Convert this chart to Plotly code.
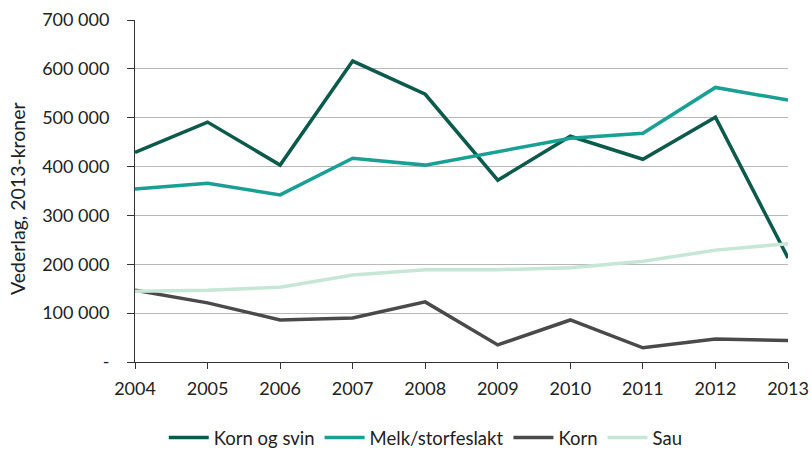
import plotly.graph_objects as go

years = [2004, 2005, 2006, 2007, 2008, 2009, 2010, 2011, 2012, 2013]
korn_og_svin = [429000, 491000, 403000, 616000, 548000, 372000, 462000, 415000, 501000, 213000]
melk_storfeslakt = [354000, 366000, 342000, 417000, 403000, 431000, 458000, 468000, 562000, 536000]
korn = [147000, 121000, 86000, 90000, 123000, 35000, 86000, 29000, 47000, 44000]
sau = [145000, 147000, 153000, 178000, 189000, 189000, 193000, 206000, 229000, 242000]

y_tickvals = [0, 100000, 200000, 300000, 400000, 500000, 600000, 700000]
y_ticktext = ["-", "100 000", "200 000", "300 000", "400 000", "500 000", "600 000", "700 000"]

series = [
    ("Korn og svin", korn_og_svin, "#0b5a4c"),
    ("Melk/storfeslakt", melk_storfeslakt, "#17a093"),
    ("Korn", korn, "#4a4a4a"),
    ("Sau", sau, "#c6e6d6"),
]

fig = go.Figure()
for name, vals, color in series:
    fig.add_trace(go.Scatter(x=years, y=vals, name=name, mode="lines",
                             line=dict(color=color, width=3.5)))

font = dict(family="Lato, 'Open Sans', sans-serif", size=18, color="#222222")
fig.update_layout(
    width=811, height=452,
    margin=dict(l=135, r=23, t=20, b=90, autoexpand=False),
    paper_bgcolor="white", plot_bgcolor="white",
    font=font,
    showlegend=True,
    legend=dict(orientation="h", xref="container", yref="container",
                x=0.525, xanchor="center", y=0.031, yanchor="middle",
                font=dict(size=18.5), itemwidth=40, traceorder="normal"),
    xaxis=dict(range=[2004, 2013], tickvals=years, ticktext=[str(y) for y in years],
               showgrid=False, showline=True, linecolor="#333333", linewidth=1,
               ticks="outside", ticklen=6, tickcolor="#333333", zeroline=False,
               ticklabelstandoff=4, ticklabeloverflow="allow"),
    yaxis=dict(range=[0, 700000], tickvals=y_tickvals, ticktext=y_ticktext,
               showgrid=True, gridcolor="#b8b8b8", gridwidth=1,
               showline=True, linecolor="#333333", linewidth=1,
               ticks="outside", ticklen=7, tickcolor="#333333", zeroline=False,
               ticklabelstandoff=14),
    annotations=[dict(text="Vederlag, 2013-kroner", textangle=-90,
                      xref="paper", yref="paper", x=0, y=0.4766,
                      xanchor="center", yanchor="middle", xshift=-118,
                      showarrow=False, font=dict(size=19.5, color="#222222"))],
)
fig.write_html("out.html", config={"displayModeBar": False},
               post_script="document.body.style.margin='0';")
